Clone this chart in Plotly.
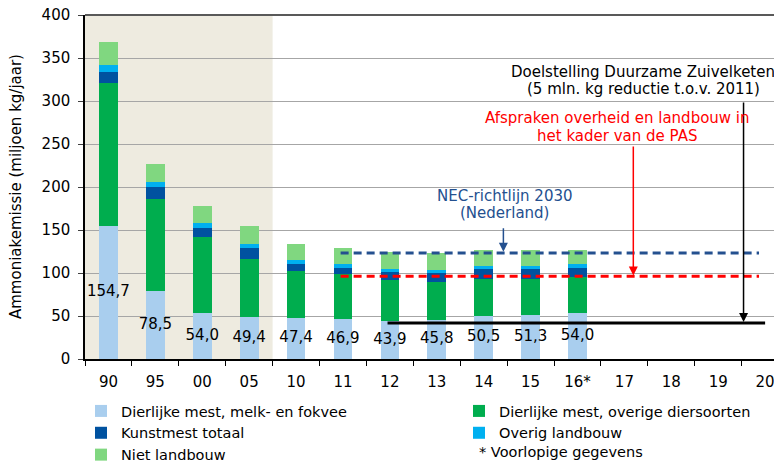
import plotly.graph_objects as go

# ---------------- data ----------------
categories = ["90", "95", "00", "05", "10", "11", "12", "13", "14", "15", "16*", "17", "18", "19", "20"]
bar_categories = categories[:11]

melk_fokvee = [154.7, 78.5, 54.0, 49.4, 47.4, 46.9, 43.9, 45.8, 50.5, 51.3, 54.0]
overige_diersoorten = [165.9, 107.5, 87.5, 67.3, 54.9, 51.6, 47.6, 43.4, 42.5, 41.7, 41.7]
kunstmest_totaal = [13.5, 14.0, 11.2, 12.3, 8.2, 7.7, 9.3, 10.4, 11.3, 11.7, 10.5]
overig_landbouw = [7.4, 5.8, 5.4, 4.7, 4.3, 4.6, 3.9, 3.9, 3.8, 3.8, 3.9]
niet_landbouw = [27.1, 20.9, 19.8, 21.3, 19.3, 18.6, 19.4, 19.4, 18.6, 18.2, 16.6]

nec_2030 = 123.3
pas_afspraken = 96.1
zuivel_basis_2011 = 46.9
zuivel_reductie = 5.0
zuivel_doel = zuivel_basis_2011 - zuivel_reductie

value_labels = [f"{v:.1f}".replace(".", ",") for v in melk_fokvee]

FONT = "DejaVu Sans"

# the page body has an 8px margin; size the figure so it fills the window exactly
OFF = 8
W, H = 782 - OFF, 462 - OFF
ML, MR, MT, MB = 85 - OFF, 0, 15 - OFF, 103
pw, ph = W - ML - MR, H - MT - MB


def px_x(page_x):
    return (page_x - OFF - ML) / pw


def px_y(page_y):
    return (H - MB - (page_y - OFF)) / ph


series = [
    ("Dierlijke mest, melk- en fokvee", melk_fokvee, "#A9CEEE", "legend"),
    ("Dierlijke mest, overige diersoorten", overige_diersoorten, "#00AD4E", "legend2"),
    ("Kunstmest totaal", kunstmest_totaal, "#0052A0", "legend"),
    ("Overig landbouw", overig_landbouw, "#00B0F0", "legend2"),
    ("Niet landbouw", niet_landbouw, "#80D780", "legend"),
]

fig = go.Figure()

# invisible trace to register all categories
fig.add_trace(go.Scatter(x=categories, y=[None] * len(categories), mode="markers",
                         showlegend=False, hoverinfo="skip"))

for name, vals, col, lg in series:
    fig.add_trace(go.Bar(x=bar_categories, y=vals, name=name, marker_color=col,
                         marker_line_width=0, width=0.4, legend=lg))

# value labels in the middle of the first segment
fig.add_trace(go.Scatter(x=bar_categories, y=[v / 2 for v in melk_fokvee], mode="text",
                         text=value_labels, textfont=dict(family=FONT, size=15, color="black"),
                         showlegend=False, hoverinfo="skip"))

idx11 = categories.index("11")
idx12 = categories.index("12")
idx20 = categories.index("20")

shapes = [
    dict(type="rect", xref="x", yref="y", x0=-0.5, x1=3.5, y0=0, y1=400,
         fillcolor="#EEEBE0", line_width=0, layer="below"),
    dict(type="line", xref="paper", yref="paper", x0=0, x1=1, y0=1, y1=1,
         line=dict(color="#595959", width=2)),
    dict(type="line", xref="x", yref="y", x0=idx11 - 0.05, x1=idx20 - 0.13, y0=nec_2030, y1=nec_2030,
         line=dict(color="#24508F", width=3, dash="8px,5px")),
    dict(type="line", xref="x", yref="y", x0=idx11 - 0.05, x1=idx20 - 0.13, y0=pas_afspraken, y1=pas_afspraken,
         line=dict(color="#FF0000", width=3, dash="8px,5px")),
    dict(type="line", xref="x", yref="y", x0=idx12 - 0.05, x1=idx20, y0=zuivel_doel, y1=zuivel_doel,
         line=dict(color="black", width=3)),
]

annotations = [
    # arrows
    dict(x=13.54, y=zuivel_doel + 1, ax=13.54, ay=300, xref="x", yref="y", axref="x", ayref="y",
         showarrow=True, arrowhead=2, arrowsize=1.2, arrowwidth=1.5, arrowcolor="black", text=""),
    dict(x=11.19, y=pas_afspraken + 1, ax=11.19, ay=248.8, xref="x", yref="y", axref="x", ayref="y",
         showarrow=True, arrowhead=2, arrowsize=1.2, arrowwidth=1.5, arrowcolor="#FF0000", text=""),
    dict(x=8.42, y=nec_2030 + 1.5, ax=8.42, ay=153.8, xref="x", yref="y", axref="x", ayref="y",
         showarrow=True, arrowhead=2, arrowsize=1.2, arrowwidth=1.5, arrowcolor="#24508F", text=""),
    # texts
    dict(x=11.4, y=334.0, xref="x", yref="y", text="Doelstelling Duurzame Zuivelketen", showarrow=False,
         font=dict(family=FONT, size=15, color="black")),
    dict(x=11.4, y=313.5, xref="x", yref="y", text="(5 mln. kg reductie t.o.v. 2011)", showarrow=False,
         font=dict(family=FONT, size=15, color="black")),
    dict(x=10.85, y=279.9, xref="x", yref="y", text="Afspraken overheid en landbouw in", showarrow=False,
         font=dict(family=FONT, size=15, color="#FF0000")),
    dict(x=10.85, y=259.3, xref="x", yref="y", text="het kader van de PAS", showarrow=False,
         font=dict(family=FONT, size=15, color="#FF0000")),
    dict(x=8.45, y=189.9, xref="x", yref="y", text="NEC-richtlijn 2030", showarrow=False,
         font=dict(family=FONT, size=15, color="#24508F")),
    dict(x=8.45, y=169.4, xref="x", yref="y", text="(Nederland)", showarrow=False,
         font=dict(family=FONT, size=15, color="#24508F")),
    # y axis title
    dict(x=px_x(16), y=0.5, xref="paper", yref="paper", text="Ammoniakemissie (miljoen kg/jaar)",
         textangle=-90, showarrow=False, font=dict(family=FONT, size=15, color="black"),
         xanchor="center", yanchor="middle"),
    # legend footnote
    dict(x=px_x(477), y=px_y(452), xref="paper", yref="paper", text="* Voorlopige gegevens",
         showarrow=False, font=dict(family=FONT, size=14.5, color="black"),
         xanchor="left", yanchor="middle"),
]

legend_common = dict(orientation="v", yanchor="top", xanchor="left",
                     font=dict(family=FONT, size=14.5, color="black"),
                     traceorder="normal", bgcolor="rgba(0,0,0,0)", borderwidth=0)

fig.update_layout(
    width=W, height=H,
    margin=dict(l=ML, r=MR, t=MT, b=MB, autoexpand=False),
    barmode="stack",
    plot_bgcolor="white", paper_bgcolor="white",
    font=dict(family=FONT, size=15, color="black"),
    shapes=shapes,
    annotations=annotations,
    legend=dict(x=px_x(81), y=px_y(395), **legend_common),
    legend2=dict(x=px_x(459), y=px_y(395), **legend_common),
    showlegend=True,
)

fig.update_xaxes(type="category", categoryorder="array", categoryarray=categories,
                 range=[-0.5, 14.36], tickson="boundaries", ticks="outside", ticklen=5,
                 tickcolor="black", showline=True, linecolor="black", linewidth=1.5,
                 showgrid=False, tickfont=dict(family=FONT, size=15), automargin=False,
                 ticklabelstandoff=8)
fig.update_yaxes(range=[0, 400], dtick=50, showgrid=True, gridcolor="#A6A6A6", gridwidth=1,
                 zeroline=False, showline=True, linecolor="black", linewidth=1.5,
                 ticks="outside", ticklen=5, tickcolor="#404040",
                 tickfont=dict(family=FONT, size=15), automargin=False, ticklabelstandoff=5,
                 ticklabeloverflow="allow")

fig.write_html("out.html")
